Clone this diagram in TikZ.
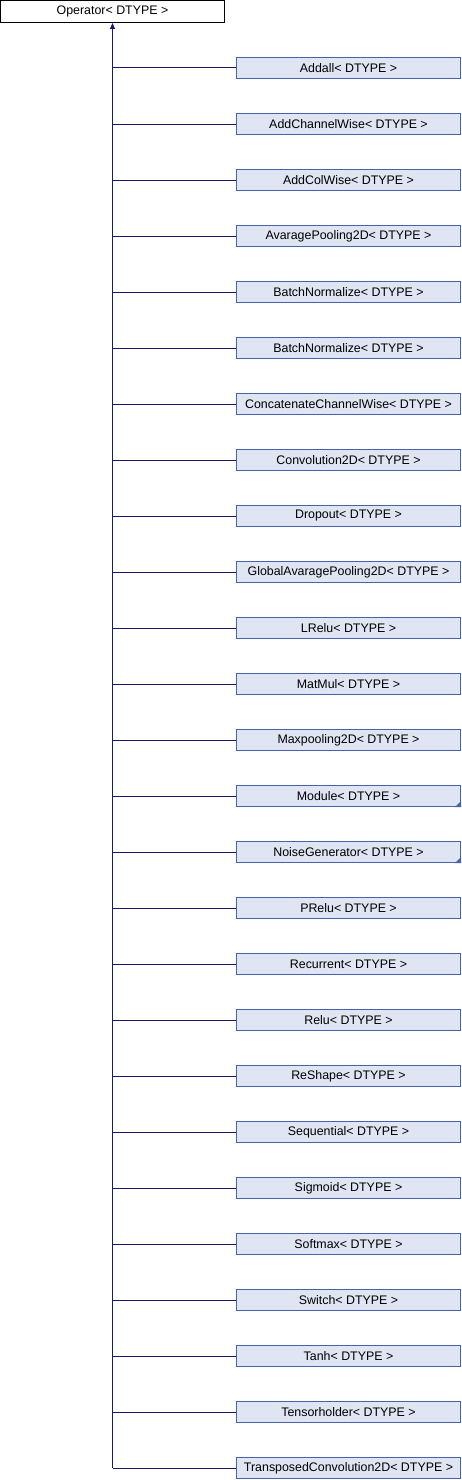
\documentclass[tikz,border=0pt]{standalone}
\usepackage{fontspec}
\setmainfont{Liberation Sans}
\usepackage{xcolor}
\definecolor{dxfill}{RGB}{223,229,242}
\definecolor{dxborder}{RGB}{72,98,170}
\definecolor{dxline}{RGB}{25,25,112}
\usepackage{tikz}
\usetikzlibrary{arrows.meta,positioning}

\begin{document}
\begin{tikzpicture}[x=1pt,y=-1pt,
  basebox/.style={draw=black,fill=white,line width=1pt,minimum width=224pt,minimum height=22pt,inner sep=0pt,font=\fontsize{12.4}{14}\selectfont},
  childbox/.style={draw=dxborder,fill=dxfill,line width=1pt,minimum width=224pt,minimum height=21pt,inner sep=0pt,font=\fontsize{12.4}{14}\selectfont},
  edge/.style={dxline,line width=1pt}]
  \useasboundingbox (0,0) rectangle (462,1480);
  % Base class
  \node[basebox] (op) at (112.5,11.5) {Operator< DTYPE >};
  % Derived classes
  \node[childbox] (c1) at (348.5,68) {Addall< DTYPE >};
  \node[childbox] (c2) at (348.5,124) {AddChannelWise< DTYPE >};
  \node[childbox] (c3) at (348.5,180) {AddColWise< DTYPE >};
  \node[childbox] (c4) at (348.5,236) {AvaragePooling2D< DTYPE >};
  \node[childbox] (c5) at (348.5,292) {BatchNormalize< DTYPE >};
  \node[childbox] (c6) at (348.5,348) {BatchNormalize< DTYPE >};
  \node[childbox] (c7) at (348.5,404) {ConcatenateChannelWise< DTYPE >};
  \node[childbox] (c8) at (348.5,460) {Convolution2D< DTYPE >};
  \node[childbox] (c9) at (348.5,516) {Dropout< DTYPE >};
  \node[childbox] (c10) at (348.5,572) {GlobalAvaragePooling2D< DTYPE >};
  \node[childbox] (c11) at (348.5,628) {LRelu< DTYPE >};
  \node[childbox] (c12) at (348.5,684) {MatMul< DTYPE >};
  \node[childbox] (c13) at (348.5,740) {Maxpooling2D< DTYPE >};
  \node[childbox] (c14) at (348.5,796) {Module< DTYPE >};
  \node[childbox] (c15) at (348.5,852) {NoiseGenerator< DTYPE >};
  \node[childbox] (c16) at (348.5,908) {PRelu< DTYPE >};
  \node[childbox] (c17) at (348.5,964) {Recurrent< DTYPE >};
  \node[childbox] (c18) at (348.5,1020) {Relu< DTYPE >};
  \node[childbox] (c19) at (348.5,1076) {ReShape< DTYPE >};
  \node[childbox] (c20) at (348.5,1132) {Sequential< DTYPE >};
  \node[childbox] (c21) at (348.5,1188) {Sigmoid< DTYPE >};
  \node[childbox] (c22) at (348.5,1244) {Softmax< DTYPE >};
  \node[childbox] (c23) at (348.5,1300) {Switch< DTYPE >};
  \node[childbox] (c24) at (348.5,1356) {Tanh< DTYPE >};
  \node[childbox] (c25) at (348.5,1412) {Tensorholder< DTYPE >};
  \node[childbox] (c26) at (348.5,1468) {TransposedConvolution2D< DTYPE >};
  % Folded corners (classes with hidden children)
  \fill[dxborder] (c14.south east) -- ++(-6,0) -- ++(6,-6) -- cycle;
  \fill[dxborder] (c15.south east) -- ++(-6,0) -- ++(6,-6) -- cycle;
  % Inheritance trunk and branches
  \draw[edge,-{Triangle[length=6pt,width=5pt]}] (op.south |- c26.west) -- (op.south);
  \foreach \i in {1,...,26}
    \draw[edge] (op.south |- c\i.west) -- (c\i.west);
\end{tikzpicture}
\end{document}
